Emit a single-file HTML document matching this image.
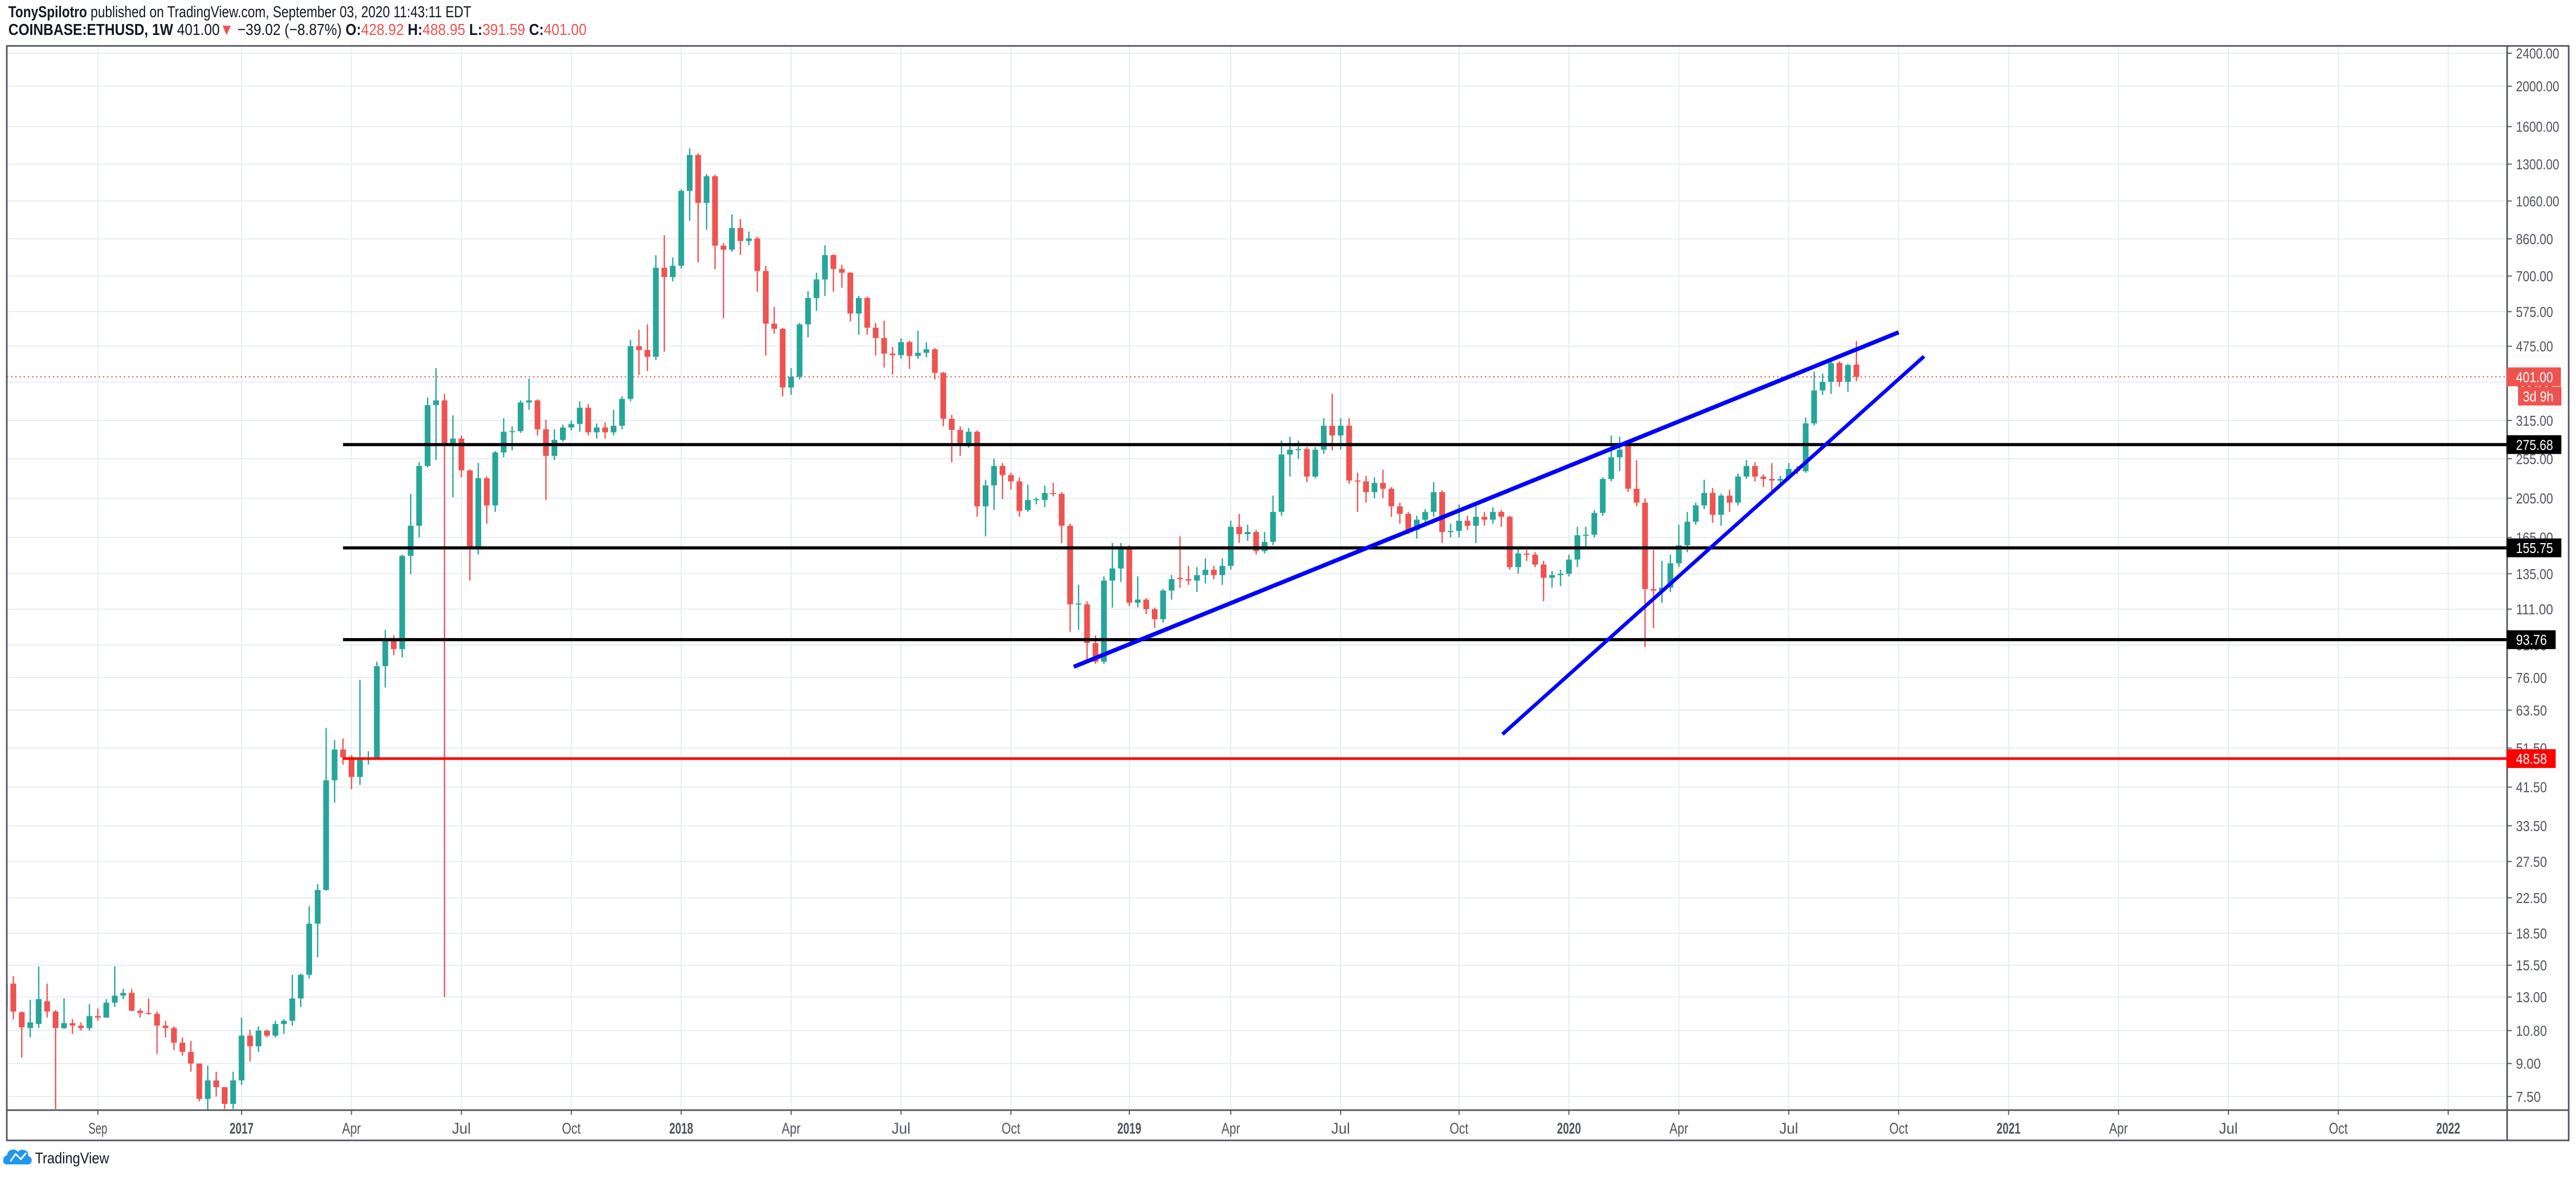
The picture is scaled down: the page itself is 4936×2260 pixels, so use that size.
<!DOCTYPE html>
<html><head><meta charset="utf-8"><title>ETHUSD 1W</title>
<style>
html,body{margin:0;padding:0;background:#fff;}
body{width:4936px;height:2260px;overflow:hidden;}
svg{display:block;}
</style></head>
<body>
<svg id="chart" xmlns="http://www.w3.org/2000/svg" width="4936" height="2260" viewBox="0 0 4936 2260" font-family="'Liberation Sans', sans-serif">
  <rect x="0" y="0" width="4936" height="2260" fill="#ffffff"/>
  <text x="16" y="33" font-size="31" fill="#131722" textLength="887" lengthAdjust="spacingAndGlyphs"><tspan font-weight="bold">TonySpilotro</tspan> published on TradingView.com, September 03, 2020 11:43:11 EDT</text>
  <text x="16" y="67" font-size="31" fill="#131722" textLength="1108" lengthAdjust="spacingAndGlyphs"><tspan font-weight="bold">COINBASE:ETHUSD, 1W</tspan> 401.00<tspan fill="#ef5350">▼</tspan> −39.02 (−8.87%) <tspan font-weight="bold">O:</tspan><tspan fill="#ef5350">428.92</tspan> <tspan font-weight="bold">H:</tspan><tspan fill="#ef5350">488.95</tspan> <tspan font-weight="bold">L:</tspan><tspan fill="#ef5350">391.59</tspan> <tspan font-weight="bold">C:</tspan><tspan fill="#ef5350">401.00</tspan></text>
  <defs><clipPath id="plotClip"><rect x="14" y="89" width="4789" height="2038"/></clipPath></defs>
  <g id="grid"></g>
  <g id="plot" clip-path="url(#plotClip)"></g>
  <g id="axes"></g>
  <g id="logo">
    <path d="M12 2232 C4 2232 4 2216 14 2214 C14 2203 30 2200 34 2208 C40 2200 56 2204 54 2216 C64 2218 62 2232 54 2232 Z" fill="#2196f3"/>
    <polyline points="20,2226 30,2212 40,2222 50,2210" fill="none" stroke="#fff" stroke-width="3"/>
    <text x="67" y="2230" font-size="30" fill="#131722" textLength="142" lengthAdjust="spacingAndGlyphs">TradingView</text>
  </g>
</svg>
<script>
// ---------- data ----------
const startWeek = "2016-06-20";
const opens = [12.3,14.0,11.95,10.95,11.2,12.7,12.0,10.95,11.25,11.1,10.95,11.7,11.6,12.6,13.1,13.3,12.05,11.9,11.85,11.1,10.95,10.1,9.6,9.0,7.4,8.2,7.9,7.2,8.2,10.5,9.9,10.8,10.5,11.2,11.4,12.9,14.7,19.5,23.5,43.1,51.1,49.0,43.9,48.5,48.8,81,93,
89,149,176,245,343,352,278,285,239,156,229,197,264,296,297,348,352,300,259,283,303,309,338,295,303,295,306,355,475,465,448,733,696,741,1121,1367,1049,1216,828,810,913,850,862,720,538,523,378,401,536,620,687,786,728,713,569,620,526,497,456,452,486,450,458,467,
410,318,299,278,296,196,220,245,233,225,192,203,203,211,210,176,114,114,92,83,130,139,156,115,117,111,105,123,132,131,130,134,138,134,141,175,168,170,153,161,190,261,268,269,231,268,306,290,306,226,225,212,223,216,196,188,172,182,190,212,170,171,181,176,185,182,190,185,
140,151,150,142,132,134,135,146,167,167.5,189,228,257,274,216,200,124,123,125,143,158,180,197,211,187,208,200,231,245,231,228,226,229,241,238,310,372,390,433,390,428.92];
const highs = [14.0,14.6,12.0,12.8,15.4,14.0,12.1,12.9,11.5,11.3,12.5,12.2,12.85,15.4,13.6,13.6,12.2,12.9,12.0,11.4,11.05,10.4,10.2,9.0,8.9,8.6,7.9,8.6,11.6,10.85,11.05,10.85,11.4,11.5,14.7,14.8,21.5,24.3,57.6,53.8,54.3,49.5,75.1,50.6,83,99,96,
150,210,250,358,421,365,324,290,240,249,231,266,319,305,352,397,354,316,300,308,315,350,345,310,312,334,360,492,520,536,786,877,776,1130,1419,1380,1230,1225,840,985,959,896,870,741,590,525,421,540,644,713,830,790,745,715,627,625,540,547,473,496,490,517,485,470,
412,325,305,302,298,227,255,249,236,230,221,206,220,223,212,178,127,116,96,133,160,160,158,133,118,112,124,134,166,141,140,147,141,147,181,188,177,172,170,208,282,288,282,272,272,319,365,319,319,236,232,230,240,218,200,190,186,193,224,214,178,198,186,196,190,195,192,186,
156,154,152,145,137,138,150,175,175,192,230,290,288,278,253,205,154,145,150,177,190,200,227,217,210,215,235,253,250,234,249,232,249,245,320,413,408,445,437,431,488.95];
const lows = [12.3,11.5,9.3,10.4,10.95,11.6,7.0,10.9,10.6,10.8,10.8,11.4,11.6,12.3,12.85,12.0,11.6,11.8,9.5,10.4,9.7,9.4,8.6,7.3,6.9,7.5,7.0,7.0,8.0,9.1,9.6,10.4,10.4,10.6,11.1,12.3,14.4,16.2,23.4,38.1,47.0,41.0,42.0,47.0,48.3,72,86,
85,135,165,243,253,13,206,230,130,150,178,190,257,267,294,334,290,203,253,280,298,296,290,285,285,290,300,350,405,414,440,461,680,730,950,755,905,727,554,800,787,830,642,451,509,360,363,395,499,578,627,642,656,545,506,506,451,422,406,443,419,443,447,395,
305,250,259,271,185,166,192,204,215,185,190,198,195,207,160,98,99,83,82,82,112,129,113,112,108,100,103,117,125,127,122,128,131,127,138,160,162,150,151,158,186,231,255,224,229,262,267,268,222,190,200,205,205,185,178,168,164,175,185,160,165,165,172,160,176,178,175,138,
135,145,140,116,125,126,133,140,155,165,186,225,238,212,196,90,100,115,122,140,152,177,193,179,176,190,197,228,225,218,214,222,226,234,236,306,363,365,380,369,391.59];
const closes = [14.0,12.0,11.0,11.3,12.85,12.0,10.95,11.25,11.1,10.95,11.7,11.6,12.6,13.1,13.3,12.05,11.9,11.85,11.1,10.95,10.1,9.6,9.0,7.4,8.2,7.9,7.2,8.2,10.5,9.9,10.8,10.5,11.2,11.4,12.9,14.7,19.5,23.5,43.1,51.1,48.9,43.9,48.7,48.8,81,93,89,
149,176,245,343,352,278,285,239,156,229,197,264,296,297,348,352,300,259,283,303,309,338,295,303,295,306,355,475,465,448,733,696,741,1121,1367,1049,1216,828,810,913,850,862,720,538,523,378,401,536,620,687,786,728,713,569,620,526,497,456,452,486,450,458,467,410,
318,299,278,296,196,220,245,233,225,191,203,204,211,210,176,114,114.5,92,83,130,139,156,115,117,111,105,123,131,131,130,134,138,134,141,175,168,170,153,161,190,261,268,269,231,268,306,290,306,226,225,212,223,216,196,188,172,182,190,212,170,171,181,176,185,182,190,185,140,
151,150,142,132,134,135,146,167,167.5,189,228,257,268,216,200,124,123,125,143,158,180,197,211,187,208,200,231,245,231,228,226,228,241,238,310,372,390,433,390,428,401];
const priceTicks = [2400,2000,1600,1300,1060,860,700,575,475,390,315,255,205,165,135,111,91,76,63.5,51.5,41.5,33.5,27.5,22.5,18.5,15.5,13,10.8,9,7.5];
const tickLabels = ["2400.00","2000.00","1600.00","1300.00","1060.00","860.00","700.00","575.00","475.00","390.00","315.00","255.00","205.00","165.00","135.00","111.00","91.00","76.00","63.50","51.50","41.50","33.50","27.50","22.50","18.50","15.50","13.00","10.80","9.00","7.50"];
const timeTickDates = ["2016-09-05","2017-01-02","2017-04-03","2017-07-03","2017-10-02","2018-01-01","2018-04-02","2018-07-02","2018-10-01","2019-01-07","2019-04-01","2019-07-01","2019-10-07","2020-01-06","2020-04-06","2020-07-06","2020-10-05","2021-01-04","2021-04-05","2021-07-05","2021-10-04","2022-01-03"];
const timeTickLabels = ["Sep","2017","Apr","Jul","Oct","2018","Apr","Jul","Oct","2019","Apr","Jul","Oct","2020","Apr","Jul","Oct","2021","Apr","Jul","Oct","2022"];
const levelPrices = [275.68,155.75,93.76];
const levelLabels = ["275.68","155.75","93.76"];
const redLevelPrice = [48.58];
const levelStart = "2017-03-27";
const wedgeUpperDates = ["2018-11-22","2020-10-05"];
const wedgeUpperPrices = [80.7,513];
const wedgeLowerDates = ["2019-11-12","2020-10-26"];
const wedgeLowerPrices = [55.6,449];
const lastPrice = 401.00;

// ---------- scales ----------
const NS = "http://www.w3.org/2000/svg";
const PL = 13, PR = 4804, PT = 88, PB = 2128;
const DAY0 = Date.UTC(2017,0,1);
function dayOf(s){const p=s.split("-");return (Date.UTC(+p[0],+p[1]-1,+p[2])-DAY0)/86400000;}
function xDay(d){return 460.6 + 2.3143*d;}
function xDate(s){return xDay(dayOf(s));}
function yP(p){return 102 + 346.7*Math.log(2400/p);}
function mk(tag, attrs, parent){const e=document.createElementNS(NS,tag);for(const k in attrs)e.setAttribute(k,attrs[k]);parent.appendChild(e);return e;}

const grid = document.getElementById("grid");
const plot = document.getElementById("plot");
const axes = document.getElementById("axes");

// grid
priceTicks.forEach((p,i)=>{
  const l = mk("line",{x1:PL,x2:PR,y1:yP(p),y2:yP(p),stroke:"#e4ecf2","stroke-width":2},grid);
  
  
});
timeTickDates.forEach((d,i)=>{
  const x=xDate(d);
  const l = mk("line",{x1:x,x2:x,y1:PT,y2:PB,stroke:"#e4ecf2","stroke-width":2},grid);
  
  
});

// current price dotted line
const cur = mk("line",{x1:PL,x2:PR,y1:yP(lastPrice),y2:yP(lastPrice),stroke:"#ef5350","stroke-width":2,"stroke-dasharray":"3 5"},plot);



// candles
const t0 = dayOf(startWeek);
for(let i=0;i<closes.length;i++){
  const x = xDay(t0 + 7*i);
  const o=opens[i], h=highs[i], l=lows[i], c=closes[i];
  const up = c >= o;
  const col = up ? "#26a69a" : "#ef5350";
  const g = mk("g",{},plot);
  
  
  mk("line",{x1:x,x2:x,y1:yP(h),y2:yP(l),stroke:col,"stroke-width":2.5},g);
  const yt = yP(Math.max(o,c)), yb = yP(Math.min(o,c));
  mk("rect",{x:x-5.5,y:yt,width:11,height:Math.max(2,yb-yt),fill:col},g);
}

// horizontal levels
const xs = xDate(levelStart);
levelPrices.forEach((p,i)=>{
  const l = mk("line",{x1:xs,x2:PR,y1:yP(p),y2:yP(p),stroke:"#000","stroke-width":6},plot);
  
  
});
redLevelPrice.forEach(p=>{
  const l = mk("line",{x1:xs,x2:PR,y1:yP(p),y2:yP(p),stroke:"#ff0000","stroke-width":5},plot);
  
  
});

// wedge trend lines
const wu = mk("line",{x1:xDate(wedgeUpperDates[0]),y1:yP(wedgeUpperPrices[0]),x2:xDate(wedgeUpperDates[1]),y2:yP(wedgeUpperPrices[1]),stroke:"#0000ff","stroke-width":8},plot);


const wl = mk("line",{x1:xDate(wedgeLowerDates[0]),y1:yP(wedgeLowerPrices[0]),x2:xDate(wedgeLowerDates[1]),y2:yP(wedgeLowerPrices[1]),stroke:"#0000ff","stroke-width":7},plot);



// frame
const frame = mk("rect",{x:13,y:88,width:4909,height:2098,fill:"none",stroke:"#50535e","stroke-width":3},axes);


const pax = mk("line",{x1:PR,x2:PR,y1:88,y2:2186,stroke:"#50535e","stroke-width":3},axes);


const tax = mk("line",{x1:13,x2:4922,y1:PB,y2:PB,stroke:"#50535e","stroke-width":3},axes);



// price axis labels
priceTicks.forEach((p,i)=>{
  const y=yP(p);
  mk("line",{x1:PR,x2:PR+9,y1:y,y2:y,stroke:"#50535e","stroke-width":2},axes);
  const t = mk("text",{x:4821,y:y+10,"font-size":28,fill:"#50535e",textLength:tickLabels[i].length*11.85,lengthAdjust:"spacingAndGlyphs"},axes);
  
  
  t.textContent = tickLabels[i];
});

// time axis labels
timeTickDates.forEach((d,i)=>{
  const x=xDate(d);
  mk("line",{x1:x,x2:x,y1:PB,y2:PB+9,stroke:"#50535e","stroke-width":2},axes);
  const lab = timeTickLabels[i];
  const isYear = /^\d{4}$/.test(lab);
  const w = lab.length*(isYear?11.5:12);
  const t = mk("text",{x:x,y:2173,"font-size":30,fill:"#50535e","text-anchor":"middle","font-weight":isYear?"bold":"normal",textLength:w,lengthAdjust:"spacingAndGlyphs"},axes);
  
  
  t.textContent = lab;
});

// badges
function badge(y, w, fill, label, name, xLeft){
  const g = mk("g",{},axes);
  
  
  mk("rect",{x:xLeft,y:y-18,width:w,height:36,fill:fill},g);
  const t = mk("text",{x:4821,y:y+10,"font-size":28,fill:"#ffffff",textLength:label.length*11.85,lengthAdjust:"spacingAndGlyphs"},g);
  t.textContent = label;
}
badge(yP(lastPrice), 104, "#ef5350", "401.00", "last-price-badge", 4803);
{
  const g = mk("g",{},axes);
  
  
  const y = yP(lastPrice)+37;
  mk("rect",{x:4825,y:y-18,width:83,height:36,fill:"#ef5350"},g);
  const t = mk("text",{x:4834,y:y+10,"font-size":28,fill:"#ffffff",textLength:59,lengthAdjust:"spacingAndGlyphs"},g);
  t.textContent = "3d 9h";
}
levelPrices.forEach((p,i)=>{
  badge(yP(p), levelLabels[i].length>5?105:94, "#000000", levelLabels[i], "level-price-badge", 4803);
});
badge(yP(redLevelPrice[0]), 94, "#ff0000", "48.58", "red-level-badge", 4803);
</script>
</body></html>
